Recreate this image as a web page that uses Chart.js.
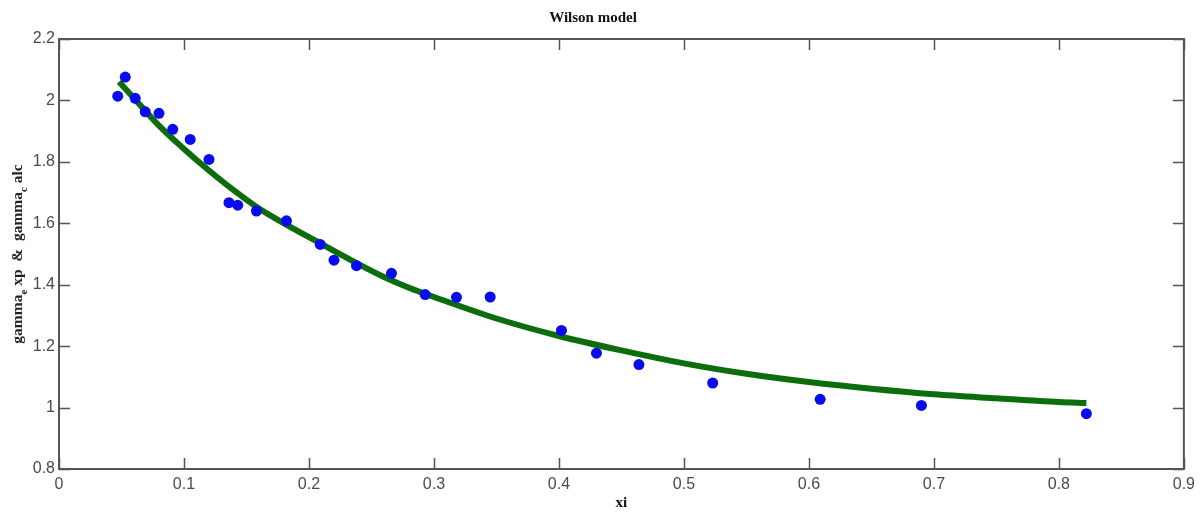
<!DOCTYPE html>
<html>
<head>
<meta charset="utf-8">
<title>Wilson model</title>
<script src="https://cdn.jsdelivr.net/npm/chart.js@4"></script>
<style>
  html, body { margin: 0; padding: 0; background: #fff; }
  #wrap { width: 1201px; height: 514px; position: relative; }
</style>
</head>
<body>
<div id="wrap"><canvas id="myChart"></canvas></div>
<script>
// experimental activity coefficients
const expX = [0.047, 0.053, 0.061, 0.069, 0.080, 0.091, 0.105, 0.120, 0.136, 0.143, 0.158, 0.182, 0.209,
  0.220, 0.238, 0.266, 0.293, 0.318, 0.345, 0.402, 0.430, 0.464, 0.523, 0.609, 0.690, 0.822];
const expY = [2.014, 2.076, 2.007, 1.963, 1.958, 1.906, 1.873, 1.808, 1.667, 1.659, 1.640, 1.608, 1.531,
  1.480, 1.462, 1.437, 1.368, 1.359, 1.360, 1.251, 1.177, 1.140, 1.080, 1.027, 1.007, 0.980];

// Wilson model curve
const calcX = [0.048, 0.06, 0.08, 0.10, 0.12, 0.14, 0.16, 0.18, 0.20, 0.22, 0.24, 0.26, 0.28, 0.30,
  0.35, 0.40, 0.45, 0.50, 0.55, 0.60, 0.65, 0.70, 0.75, 0.80, 0.822];
const calcY = [2.061, 2.007, 1.918, 1.842, 1.772, 1.707, 1.648, 1.600, 1.555, 1.510, 1.466, 1.425, 1.390, 1.360,
  1.290, 1.233, 1.186, 1.144, 1.110, 1.083, 1.061, 1.043, 1.030, 1.018, 1.015];

const xTicks = [0, 0.1, 0.2, 0.3, 0.4, 0.5, 0.6, 0.7, 0.8, 0.9];
const yTicks = [0.8, 1, 1.2, 1.4, 1.6, 1.8, 2, 2.2];

const axisColor = '#555';
const tickFont = { family: "'Liberation Sans', Arial, sans-serif", size: 16 };

// box around the plot with inward ticks on every side
const frame = {
  id: 'frame',
  beforeDatasetsDraw(chart) {
    const { ctx, chartArea: a, scales } = chart;
    const len = 11;
    ctx.save();
    ctx.strokeStyle = axisColor;
    ctx.lineWidth = 1.5;
    ctx.beginPath();
    scales.x.ticks.forEach(t => {
      const px = Math.round(scales.x.getPixelForValue(t.value)) + 0.5;
      ctx.moveTo(px, a.bottom); ctx.lineTo(px, a.bottom - len);
      ctx.moveTo(px, a.top); ctx.lineTo(px, a.top + len);
    });
    scales.y.ticks.forEach(t => {
      const py = Math.round(scales.y.getPixelForValue(t.value)) + 0.5;
      ctx.moveTo(a.left, py); ctx.lineTo(a.left + len, py);
      ctx.moveTo(a.right, py); ctx.lineTo(a.right - len, py);
    });
    ctx.stroke();
    ctx.lineWidth = 2;
    ctx.strokeRect(a.left, a.top, a.right - a.left, a.bottom - a.top);
    ctx.restore();
  }
};

// y axis title with subscripts
const yLabel = {
  id: 'yLabel',
  afterDraw(chart) {
    const { ctx, chartArea: a } = chart;
    const parts = [
      ['gamma', false], ['e', true], [' xp  &  gamma', false], ['c', true], [' alc', false]
    ];
    const big = "bold 15.5px 'Liberation Serif', 'Times New Roman', serif";
    const small = "bold 11px 'Liberation Serif', 'Times New Roman', serif";
    ctx.save();
    let total = 0;
    parts.forEach(([s, sub]) => { ctx.font = sub ? small : big; total += ctx.measureText(s).width; });
    ctx.translate(22, (a.top + a.bottom) / 2);
    ctx.rotate(-Math.PI / 2);
    ctx.fillStyle = '#222';
    ctx.textBaseline = 'alphabetic';
    let x = -total / 2;
    parts.forEach(([s, sub]) => {
      ctx.font = sub ? small : big;
      ctx.fillText(s, x, sub ? 5 : 0);
      x += ctx.measureText(s).width;
    });
    ctx.restore();
  }
};

new Chart(document.getElementById('myChart'), {
  type: 'scatter',
  data: {
    datasets: [
      {
        label: 'gamma exp',
        data: expX.map((x, i) => ({ x: x, y: expY[i] })),
        backgroundColor: '#0a0aee',
        borderWidth: 0,
        pointRadius: 5.5,
        pointHoverRadius: 5.5,
        order: 0
      },
      {
        label: 'gamma calc',
        type: 'line',
        data: calcX.map((x, i) => ({ x: x, y: calcY[i] })),
        borderColor: '#0c6d0c',
        borderWidth: 6,
        pointRadius: 0,
        fill: false,
        cubicInterpolationMode: 'monotone',
        order: 1
      }
    ]
  },
  options: {
    responsive: true,
    maintainAspectRatio: false,
    animation: false,
    layout: { padding: { left: 0, right: 15, top: 0, bottom: 0 } },
    plugins: {
      legend: { display: false },
      tooltip: { enabled: false },
      title: {
        display: true,
        text: 'Wilson model',
        color: '#111',
        font: { family: "'Liberation Serif', 'Times New Roman', serif", size: 15, weight: 'bold' },
        padding: { top: 9, bottom: 12 }
      }
    },
    scales: {
      x: {
        type: 'linear',
        min: 0,
        max: 0.9,
        afterBuildTicks: s => { s.ticks = xTicks.map(v => ({ value: v })); },
        afterFit: s => { s.height = 45; },
        grid: { display: false, drawTicks: false },
        border: { display: false },
        ticks: {
          color: '#4a4a4a',
          font: tickFont,
          padding: 6,
          maxRotation: 0,
          callback: v => String(v)
        },
        title: {
          display: true,
          text: 'xi',
          color: '#111',
          font: { family: "'Liberation Serif', 'Times New Roman', serif", size: 15, weight: 'bold' },
          padding: { top: 0, bottom: 2 }
        }
      },
      y: {
        type: 'linear',
        min: 0.8,
        max: 2.2,
        afterBuildTicks: s => { s.ticks = yTicks.map(v => ({ value: v })); },
        afterFit: s => { s.width = 59; },
        grid: { display: false, drawTicks: false },
        border: { display: false },
        ticks: {
          color: '#4a4a4a',
          font: tickFont,
          padding: 4,
          callback: v => String(v)
        }
      }
    }
  },
  plugins: [frame, yLabel]
});
</script>
</body>
</html>
